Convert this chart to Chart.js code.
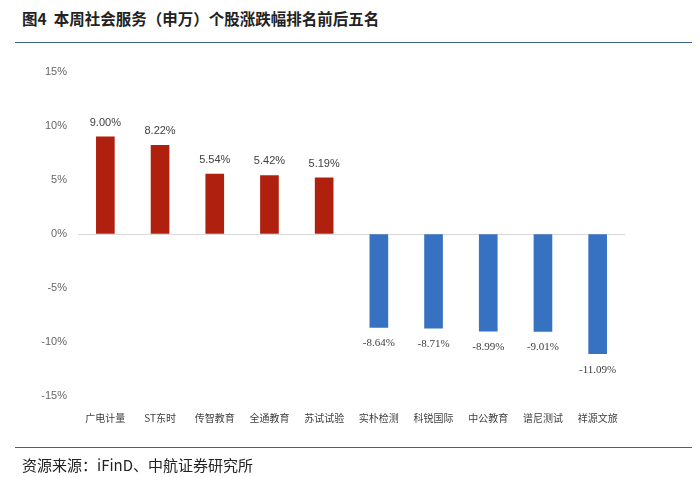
<!DOCTYPE html>
<html>
<head>
<meta charset="utf-8">
<script src="https://cdn.jsdelivr.net/npm/chart.js@4"></script>
<style>
  body { margin: 0; background: #fff; }
  #wrap { position: relative; width: 700px; height: 477px; overflow: hidden; }
  #canvas1 { position: absolute; left: 0; top: 0; }
  .title { position: absolute; left: 22px; top: 7px; font: bold 15.5px "Noto Sans CJK SC"; color: #222; }
  .rule { position: absolute; left: 15px; width: 677px; height: 0; border-top: 1.5px solid #3f5f8f; }
  .source { position: absolute; left: 22px; top: 454px; font: 15px "Noto Sans CJK SC"; color: #222; }
</style>
</head>
<body>
<div id="wrap">
  <div class="title">图4&nbsp;&nbsp;本周社会服务（申万）个股涨跌幅排名前后五名</div>
  <div class="rule" style="top:42px"></div>
  <canvas id="canvas1" width="700" height="477"></canvas>
  <div class="rule" style="top:447px"></div>
  <div class="source">资源来源：iFinD、中航证券研究所</div>
</div>
<script>
var stocks = ["广电计量", "ST东时", "传智教育", "全通教育", "苏试试验", "实朴检测", "科锐国际", "中公教育", "谱尼测试", "祥源文旅"];
var changes = [9.00, 8.22, 5.54, 5.42, 5.19, -8.64, -8.71, -8.99, -9.01, -11.09];
var yTicks = [-15, -10, -5, 0, 5, 10, 15];

var valueLabels = {
    id: 'valueLabels',
    afterDatasetsDraw: function (chart) {
        var ctx = chart.ctx;
        var meta = chart.getDatasetMeta(0);
        ctx.save();
        ctx.textAlign = 'center';
        ctx.textBaseline = 'middle';
        ctx.fillStyle = '#404040';
        meta.data.forEach(function (bar, i) {
            var v = changes[i];
            if (v >= 0) {
                ctx.font = '11px "Liberation Sans"';
                ctx.fillText(v.toFixed(2) + '%', bar.x, bar.y - 14);
            } else {
                ctx.font = '11px "Liberation Serif"';
                ctx.fillText(v.toFixed(2) + '%', bar.x, bar.y + 16);
            }
        });
        ctx.restore();
    }
};

new Chart(document.getElementById("canvas1"), {
    type: 'bar',
    data: {
        labels: stocks,
        datasets: [{
            data: changes,
            backgroundColor: changes.map(function (v) { return v >= 0 ? "#b0200f" : "#3771c2"; }),
            barThickness: 18
        }]
    },
    options: {
        responsive: false,
        animation: false,
        layout: { padding: { top: 72, right: 75, bottom: 51, left: 0 } },
        plugins: { legend: { display: false }, tooltip: { enabled: false } },
        scales: {
            x: {
                grid: { display: false },
                border: { display: false },
                ticks: { padding: 8, color: '#404040', font: { family: 'Noto Sans CJK SC', size: 10 }, maxRotation: 0 },
                afterFit: function (scale) { scale.height = 30; }
            },
            y: {
                min: -15,
                max: 15,
                afterBuildTicks: function (scale) {
                    scale.ticks = yTicks.map(function (v) { return { value: v }; });
                },
                border: { display: false },
                grid: {
                    drawTicks: false,
                    lineWidth: 1,
                    color: function (c) { return c.tick && c.tick.value === 0 ? '#d9d9d9' : 'rgba(0,0,0,0)'; }
                },
                ticks: {
                    padding: 11,
                    color: '#666666',
                    font: { family: 'Liberation Sans', size: 11 },
                    callback: function (v) { return v + '%'; }
                },
                afterFit: function (scale) { scale.width = 78; }
            }
        }
    },
    plugins: [valueLabels]
});
</script>
</body>
</html>
